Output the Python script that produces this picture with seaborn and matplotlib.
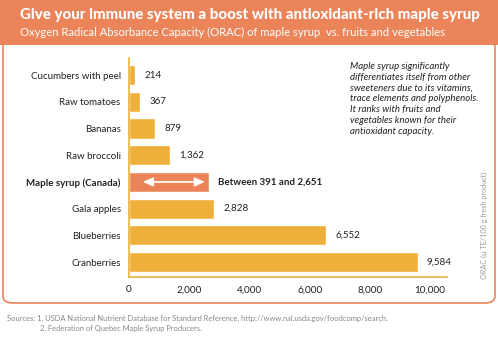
import matplotlib
matplotlib.use("Agg")
import matplotlib.pyplot as plt
import seaborn as sns
import pandas as pd
from matplotlib.patches import FancyBboxPatch, Rectangle

categories = ["Cucumbers with peel", "Raw tomatoes", "Bananas", "Raw broccoli",
              "Maple syrup (Canada)", "Gala apples", "Blueberries", "Cranberries"]
values = [214, 367, 879, 1362, 2651, 2828, 6552, 9584]
value_labels = ["214", "367", "879", "1,362", "Between 391 and 2,651", "2,828", "6,552", "9,584"]
maple_range = [391, 2651]
xticks = [0, 2000, 4000, 6000, 8000, 10000]
xtick_labels = ["0", "2,000", "4,000", "6,000", "8,000", "10,000"]

GOLD = "#EEB03B"
SALMON = "#EC845A"
TEXT = "#222222"

sns.set_theme(style="white")
plt.rcParams['font.family'] = ['Lato', 'DejaVu Sans']

fig = plt.figure(figsize=(4.98, 3.37), dpi=100)
W, H = 498, 337

def fx(px):
    return px / W

def fy(py):
    return 1 - py / H

# panel border
panel = FancyBboxPatch((fx(3), fy(303)), fx(492), fy(40) - fy(303),
                       boxstyle="round,pad=0,rounding_size=0.02",
                       transform=fig.transFigure, facecolor="white",
                       edgecolor=SALMON, linewidth=1.2, zorder=-2)
fig.patches.append(panel)
header = Rectangle((0, fy(45)), 1, 1 - fy(45), transform=fig.transFigure,
                   facecolor=SALMON, edgecolor="none", zorder=-1)
fig.patches.append(header)

fig.text(fx(20), fy(15), "Give your immune system a boost with antioxidant-rich maple syrup",
         color="white", fontsize=10.8, fontweight="black", va="center", ha="left")
fig.text(fx(20), fy(32), "Oxygen Radical Absorbance Capacity (ORAC) of maple syrup  vs. fruits and vegetables",
         color="white", fontsize=8.1, va="center", ha="left")

ax = fig.add_axes([fx(129), fy(277), fx(447) - fx(129), fy(58) - fy(277)])
df = pd.DataFrame({"category": categories, "value": values})
palette = [SALMON if c.startswith("Maple") else GOLD for c in categories]
sns.barplot(data=df, y="category", x="value", hue="category", palette=palette,
            orient="h", width=0.75, legend=False, ax=ax, saturation=1)
ax.set_xlim(0, 10560)
ax.set_ylim(7.56, -0.64)
ax.set_xlabel("")
ax.set_ylabel("")
ax.set_facecolor("none")
for s in ["top", "right"]:
    ax.spines[s].set_visible(False)
ax.spines["left"].set_color(GOLD)
ax.spines["bottom"].set_color(GOLD)
ax.spines["left"].set_linewidth(1.2)
ax.spines["bottom"].set_linewidth(1.2)
ax.tick_params(axis="both", length=0, pad=6)
ax.set_xticks(xticks)
ax.set_xticklabels(xtick_labels, fontsize=7.2, color=TEXT)
ax.set_yticks(range(len(categories)))
ax.set_yticklabels(categories, fontsize=7, color=TEXT)
for lbl in ax.get_yticklabels():
    if lbl.get_text().startswith("Maple"):
        lbl.set_fontweight("bold")

for i, (v, t) in enumerate(zip(values, value_labels)):
    bold = t.startswith("Between")
    ax.text(v + 300, i, t, va="center", ha="left", fontsize=7, color=TEXT,
            fontweight="bold" if bold else "normal")

mi = categories.index("Maple syrup (Canada)")
ax.annotate("", xy=(2520, mi), xytext=(460, mi),
            arrowprops=dict(arrowstyle="<|-|>,head_length=0.5,head_width=0.22",
                            color="white", lw=1.2, shrinkA=0, shrinkB=0))

fig.text(fx(350), fy(62), "Maple syrup significantly\ndifferentiates itself from other\n"
         "sweeteners due to its vitamins,\ntrace elements and polyphenols.\n"
         "It ranks with fruits and\nvegetables known for their\nantioxidant capacity.",
         fontsize=6.9, style="italic", color=TEXT, va="top", ha="left", linespacing=1.25)

fig.text(fx(484), fy(225), "ORAC (µ TE/100 g fresh product)", rotation=90,
         fontsize=5.2, color="#999999", va="center", ha="center")

fig.text(fx(7), fy(318), "Sources: 1. USDA National Nutrient Database for Standard Reference, http://www.nal.usda.gov/foodcomp/search.",
         fontsize=5.4, color="#888888", va="center", ha="left")
fig.text(fx(40), fy(328), "2. Federation of Quebec Maple Syrup Producers.",
         fontsize=5.4, color="#888888", va="center", ha="left")

fig.savefig("out.png", dpi=100)
